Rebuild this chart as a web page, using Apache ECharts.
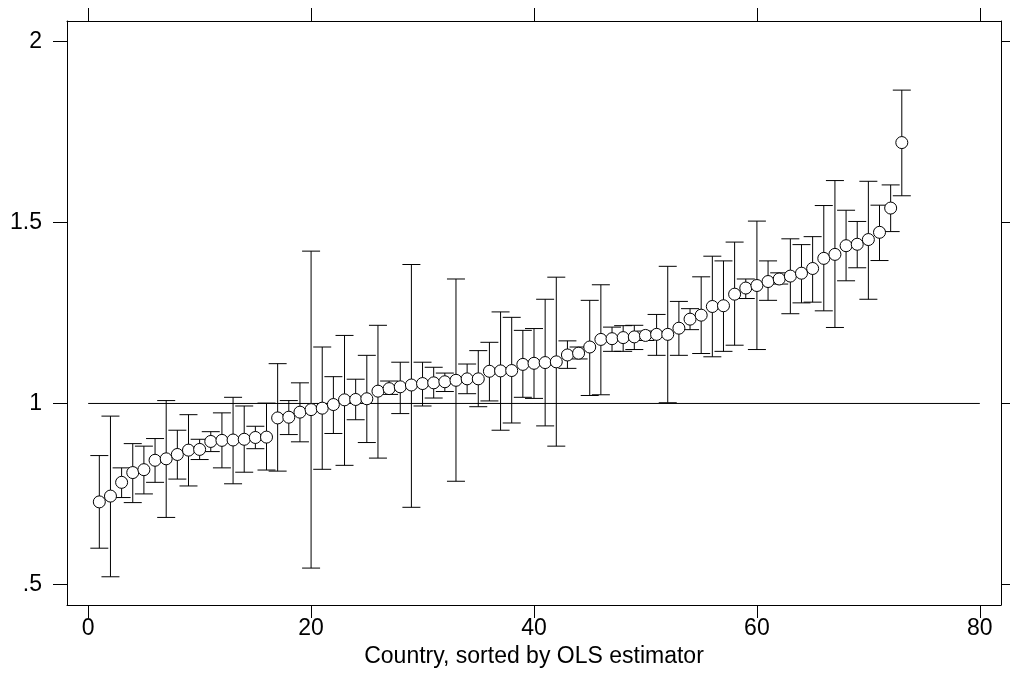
<!DOCTYPE html>
<html>
<head>
<meta charset="utf-8">
<script src="https://cdn.jsdelivr.net/npm/echarts@6/dist/echarts.min.js"></script>
<style>
  html, body { margin: 0; padding: 0; background: #fff; }
  #chart { width: 1010px; height: 673px; }
</style>
</head>
<body>
<div id="chart"></div>
<script>
// country rank (sorted by OLS estimator)
const rank = [
  1, 2, 3, 4, 5, 6, 7, 8, 9, 10, 11, 12, 13, 14, 15, 16, 17, 18, 19, 20,
  21, 22, 23, 24, 25, 26, 27, 28, 29, 30, 31, 32, 33, 34, 35, 36, 37, 38, 39, 40,
  41, 42, 43, 44, 45, 46, 47, 48, 49, 50, 51, 52, 53, 54, 55, 56, 57, 58, 59, 60,
  61, 62, 63, 64, 65, 66, 67, 68, 69, 70, 71, 72, 73
]
// point estimate
const estimate = [
  0.728, 0.744, 0.782, 0.809, 0.817, 0.843, 0.847, 0.859, 0.871, 0.873,
  0.895, 0.898, 0.899, 0.901, 0.906, 0.907, 0.960, 0.962, 0.976, 0.983,
  0.987, 0.997, 1.010, 1.011, 1.013, 1.034, 1.041, 1.046, 1.051, 1.055,
  1.057, 1.060, 1.064, 1.068, 1.068, 1.089, 1.090, 1.091, 1.108, 1.111,
  1.113, 1.115, 1.134, 1.139, 1.156, 1.177, 1.179, 1.182, 1.184, 1.188,
  1.191, 1.191, 1.208, 1.233, 1.244, 1.268, 1.270, 1.302, 1.319, 1.326,
  1.337, 1.344, 1.352, 1.360, 1.373, 1.401, 1.412, 1.436, 1.440, 1.453,
  1.473, 1.540, 1.721
]
// lower bound of interval
const lower = [
  0.600, 0.521, 0.740, 0.726, 0.750, 0.782, 0.685, 0.791, 0.772, 0.845,
  0.867, 0.822, 0.778, 0.810, 0.875, 0.816, 0.813, 0.914, 0.894, 0.545,
  0.818, 0.917, 0.829, 0.955, 0.892, 0.849, 1.025, 0.972, 0.713, 0.993,
  1.015, 1.033, 0.785, 1.027, 0.991, 1.007, 0.926, 0.946, 1.017, 1.014,
  0.938, 0.882, 1.097, 1.123, 1.022, 1.024, 1.144, 1.144, 1.149, 1.174,
  1.133, 1.002, 1.133, 1.204, 1.138, 1.129, 1.144, 1.161, 1.290, 1.149,
  1.285, 1.330, 1.248, 1.278, 1.280, 1.256, 1.210, 1.339, 1.375, 1.288,
  1.395, 1.475, 1.574
]
// upper bound of interval
const upper = [
  0.856, 0.965, 0.822, 0.889, 0.882, 0.903, 1.008, 0.926, 0.969, 0.901,
  0.922, 0.974, 1.017, 0.993, 0.937, 1.001, 1.110, 1.008, 1.057, 1.421,
  1.156, 1.074, 1.188, 1.067, 1.133, 1.216, 1.062, 1.114, 1.384, 1.114,
  1.100, 1.084, 1.344, 1.109, 1.146, 1.169, 1.253, 1.238, 1.202, 1.207,
  1.288, 1.349, 1.173, 1.156, 1.285, 1.328, 1.211, 1.215, 1.216, 1.200,
  1.246, 1.379, 1.282, 1.262, 1.350, 1.407, 1.394, 1.446, 1.344, 1.504,
  1.394, 1.361, 1.455, 1.439, 1.461, 1.547, 1.616, 1.534, 1.503, 1.614,
  1.548, 1.604, 1.866
]
// reference line at 1
const refLine = [[0, 1], [80, 1]]
const xTicks = [0, 20, 40, 60, 80]
const yTicks = [0.5, 1, 1.5, 2]

const font = 'Liberation Sans, Arial, Helvetica, sans-serif'

const chart = echarts.init(document.getElementById('chart'))

const barData = rank.map((r, i) => [r, lower[i], upper[i]])
const pointData = rank.map((r, i) => [r, estimate[i]])

const xAxisBase = {
  type: 'value',
  min: -1.9,
  max: 81.9,
  splitLine: { show: false },
  axisLine: { show: true, onZero: false, lineStyle: { color: '#000', width: 1 } },
  axisTick: { show: true, length: 13, customValues: xTicks, lineStyle: { color: '#000', width: 1 } }
}
const yAxisBase = {
  type: 'value',
  min: 0.443,
  max: 2.057,
  splitLine: { show: false },
  axisLine: { show: true, onZero: false, lineStyle: { color: '#000', width: 1 } },
  axisTick: { show: true, length: 14, customValues: yTicks, lineStyle: { color: '#000', width: 1 } }
}

const option = {
  animation: false,
  backgroundColor: '#fff',
  grid: { left: 67, right: 9, top: 21, bottom: 67 },
  xAxis: [
    Object.assign({}, xAxisBase, {
      position: 'bottom',
      name: 'Country, sorted by OLS estimator',
      nameLocation: 'middle',
      nameGap: 40,
      nameTextStyle: { fontFamily: font, fontSize: 23, color: '#000' },
      axisLabel: {
        customValues: xTicks,
        margin: 12,
        fontFamily: font,
        fontSize: 23,
        color: '#000'
      }
    }),
    Object.assign({}, xAxisBase, {
      position: 'top',
      axisLabel: { show: false }
    })
  ],
  yAxis: [
    Object.assign({}, yAxisBase, {
      position: 'left',
      axisLabel: {
        customValues: yTicks,
        margin: 25,
        fontFamily: font,
        fontSize: 23,
        color: '#000',
        formatter: v => (v === 0.5 ? '.5' : String(v))
      }
    }),
    Object.assign({}, yAxisBase, {
      position: 'right',
      axisLabel: { show: false }
    })
  ],
  series: [
    {
      type: 'line',
      data: refLine,
      symbol: 'none',
      lineStyle: { color: '#000', width: 1 },
      silent: true,
      z: 1
    },
    {
      type: 'custom',
      data: barData,
      z: 2,
      renderItem: (params, api) => {
        const x = api.value(0)
        const lo = api.coord([x, api.value(1)])
        const hi = api.coord([x, api.value(2)])
        const half = 9
        const style = { stroke: '#000', lineWidth: 1 }
        return {
          type: 'group',
          children: [
            { type: 'line', shape: { x1: lo[0], y1: lo[1], x2: hi[0], y2: hi[1] }, style: style },
            { type: 'line', shape: { x1: lo[0] - half, y1: lo[1], x2: lo[0] + half, y2: lo[1] }, style: style },
            { type: 'line', shape: { x1: hi[0] - half, y1: hi[1], x2: hi[0] + half, y2: hi[1] }, style: style }
          ]
        }
      }
    },
    {
      type: 'scatter',
      data: pointData,
      symbol: 'circle',
      symbolSize: 12,
      z: 3,
      itemStyle: { color: '#fff', borderColor: '#000', borderWidth: 1, opacity: 1 }
    }
  ]
}

chart.setOption(option)
</script>
</body>
</html>
